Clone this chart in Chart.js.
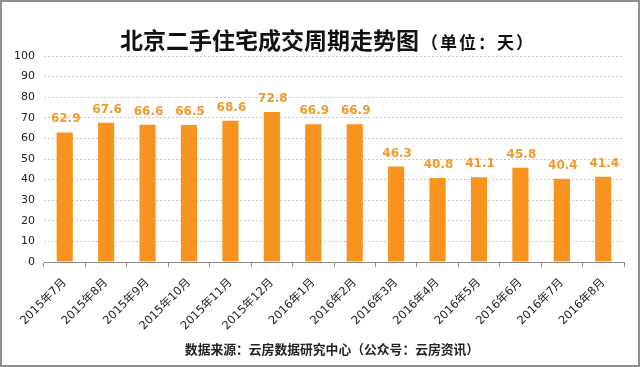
<!DOCTYPE html>
<html>
<head>
<meta charset="utf-8">
<script src="https://cdn.jsdelivr.net/npm/chart.js@4.4.1/dist/chart.umd.min.js"></script>
<style>
    html, body { margin: 0; padding: 0; background: #fff; }
    .frame {
        position: relative;
        width: 640px;
        height: 367px;
        box-sizing: border-box;
        border: 2px solid #8e8e8e;
        background: #fff;
        overflow: hidden;
    }
    .frame canvas { position: absolute; left: 0; top: 0; }
    .title {
        position: absolute;
        left: 118px; top: 20px;
        font-family: "Noto Sans CJK SC", sans-serif;
        font-weight: bold;
        color: #111;
        white-space: nowrap;
    }
    .title .main { font-size: 23px; }
    .title .unit { font-size: 17px; letter-spacing: 2px; margin-left: 2px; }
    .source {
        position: absolute;
        left: 24px; right: 0; top: 337px;
        text-align: center;
        font-family: "Noto Sans CJK SC", sans-serif;
        font-weight: bold;
        font-size: 12.8px;
        color: #222;
        white-space: nowrap;
    }
</style>
</head>
<body>
<div class="frame">
    <canvas id="chart" width="636" height="363"></canvas>
    <div class="title"><span class="main">北京二手住宅成交周期走势图</span><span class="unit">（单位：天）</span></div>
    <div class="source">数据来源：云房数据研究中心（公众号：云房资讯）</div>
</div>
<script>
// Chart data
const months = ['2015年7月', '2015年8月', '2015年9月', '2015年10月', '2015年11月', '2015年12月',
    '2016年1月', '2016年2月', '2016年3月', '2016年4月', '2016年5月', '2016年6月', '2016年7月', '2016年8月'];
const days = [62.9, 67.6, 66.6, 66.5, 68.6, 72.8, 66.9, 66.9, 46.3, 40.8, 41.1, 45.8, 40.4, 41.4];
const yTicks = [0, 10, 20, 30, 40, 50, 60, 70, 80, 90, 100];

const colors = {
    bar: '#f7931e',
    label: '#f59a2a',
    text: '#222',
    grid: '#c9c9c9',
    axis: '#8a8a8a'
};

// Value labels above each bar
const valueLabels = {
    id: 'valueLabels',
    afterDatasetsDraw(chart) {
        const { ctx } = chart;
        const meta = chart.getDatasetMeta(0);
        ctx.save();
        ctx.font = 'bold 12px "DejaVu Sans", sans-serif';
        ctx.fillStyle = colors.label;
        ctx.textAlign = 'center';
        ctx.textBaseline = 'alphabetic';
        meta.data.forEach((bar, i) => {
            ctx.fillText(days[i].toFixed(1), bar.x + 1, bar.y - 10);
        });
        ctx.restore();
    }
};

new Chart(document.getElementById('chart'), {
    type: 'bar',
    data: {
        labels: months,
        datasets: [{
            data: days,
            backgroundColor: colors.bar,
            barPercentage: 0.78,
            categoryPercentage: 0.5
        }]
    },
    options: {
        responsive: false,
        animation: false,
        layout: { padding: { top: 54, right: 14, left: 0, bottom: 0 } },
        plugins: {
            legend: { display: false },
            tooltip: { enabled: false }
        },
        scales: {
            x: {
                offset: true,
                grid: {
                    display: true,
                    drawOnChartArea: false,
                    drawTicks: true,
                    tickLength: 5,
                    color: colors.axis,
                    offset: true
                },
                border: { display: true, color: colors.axis, width: 1 },
                ticks: {
                    minRotation: 45,
                    maxRotation: 45,
                    autoSkip: false,
                    padding: 9,
                    color: colors.text,
                    font: { family: '"DejaVu Sans", "Noto Sans CJK SC", sans-serif', size: 11.5 }
                },
                afterFit(scale) { scale.height = 103; }
            },
            y: {
                min: 0,
                max: 100,
                afterBuildTicks(scale) { scale.ticks = yTicks.map(v => ({ value: v })); },
                grid: {
                    color: colors.grid,
                    drawTicks: false
                },
                border: { display: false, dash: [2, 2] },
                ticks: {
                    padding: 9,
                    color: colors.text,
                    font: { family: '"DejaVu Sans", sans-serif', size: 11 }
                },
                afterFit(scale) { scale.width = 42; }
            }
        }
    },
    plugins: [valueLabels]
});
</script>
</body>
</html>
